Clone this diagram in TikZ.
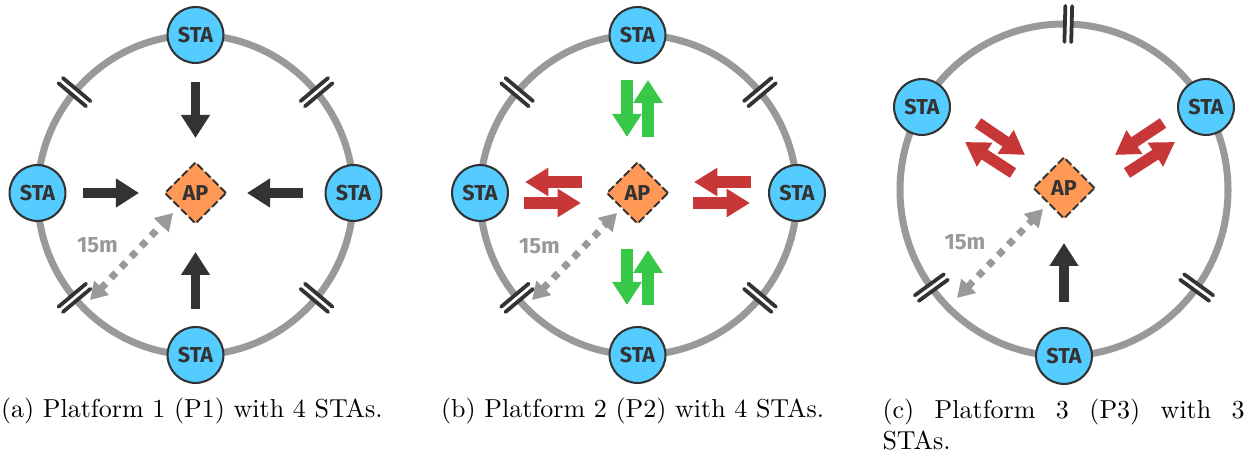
\documentclass[tikz,border=0pt]{standalone}
\usepackage{fontspec}
\newfontfamily\labelfont{Fira Sans}
\usetikzlibrary{arrows.meta,shapes.geometric}
\definecolor{ringgray}{RGB}{153,153,153}
\definecolor{darkline}{RGB}{51,51,51}
\definecolor{stablue}{RGB}{85,204,255}
\definecolor{aporange}{RGB}{255,153,85}
\definecolor{arrowgreen}{RGB}{55,200,72}
\definecolor{arrowred}{RGB}{200,55,55}
\tikzset{
  ring/.style={draw=ringgray, line width=2.7pt},
  sta/.style={circle, draw=darkline, line width=0.8pt, fill=stablue, minimum size=21.5pt, inner sep=0pt,
    font=\labelfont\bfseries\fontsize{8.3}{9}\selectfont, text=darkline},
  ap/.style={diamond, draw=darkline, line width=0.8pt, dash pattern=on 3pt off 1.2pt, fill=aporange,
    minimum width=23.8pt, minimum height=23.8pt, inner sep=0pt,
    font=\labelfont\bfseries\fontsize{8.3}{9}\selectfont, text=darkline},
  blackarrow/.style={draw=darkline, line width=3.8pt, -{Triangle[length=8.85pt,width=10.6pt]}},
  greenarrow/.style={draw=arrowgreen, line width=4.4pt, -{Triangle[length=8.85pt,width=10.8pt]}},
  redarrow/.style={draw=arrowred, line width=4.4pt, -{Triangle[length=9pt,width=10.4pt]}},
  distarrow/.style={draw=ringgray, line width=2.7pt, dash pattern=on 2.7pt off 2.9pt,
    {Triangle[length=6.5pt,width=7.5pt]}-{Triangle[length=6.5pt,width=7.5pt]}},
  distlabel/.style={text=ringgray, font=\labelfont\bfseries\fontsize{8.5}{9}\selectfont, inner sep=0pt},
  caption/.style={font=\fontsize{10}{12}\selectfont, inner sep=0pt},
  brk/.pic={
    \draw[white, line width=1.3pt] (-15,0) -- (15,0);
    \draw[darkline, line width=1.45pt, line cap=round] (-18,3.4) -- (18,3.4);
    \draw[darkline, line width=1.45pt, line cap=round] (-18,-3.4) -- (18,-3.4);
  }
}
\begin{document}
\begin{tikzpicture}[x=0.3846pt,y=-0.3846pt]
\useasboundingbox (0,0) rectangle (1258,457);

% ---------------- Panel (a) ----------------
\draw[ring] (195.5,195) ellipse [x radius=158, y radius=160];
\foreach \t in {140,40,220,320}
  \pic[rotate=\t] at ({195.5+158*cos(\t)},{195-160*sin(\t)}) {brk};
\node[sta] (s1t) at (195.5,35) {STA};
\node[sta] (s1b) at (195.5,355) {STA};
\node[sta] (s1l) at (37.5,193) {STA};
\node[sta] (s1r) at (353.5,193) {STA};
\node[ap] (ap1) at (195.5,193) {AP};
\coordinate (a1t1) at (195.5,82);  \coordinate (a1t2) at (195.5,138);
\coordinate (a1l1) at (83,193);    \coordinate (a1l2) at (139,193);
\coordinate (a1r1) at (303,193);   \coordinate (a1r2) at (247,193);
\coordinate (a1b1) at (195.5,309); \coordinate (a1b2) at (195.5,252);
\draw[blackarrow] (a1t1) -- (a1t2);
\draw[blackarrow] (a1l1) -- (a1l2);
\draw[blackarrow] (a1r1) -- (a1r2);
\draw[blackarrow] (a1b1) -- (a1b2);
\coordinate (d1a) at (90,300); \coordinate (d1b) at (173,213);
\draw[distarrow] (d1a) -- (d1b);
\node[distlabel] (l1) at (97.5,245.5) {15m};
\node[caption, anchor=base west] (c1) at (0.5,418) {(a) Platform 1 (P1) with 4 STAs.};

% ---------------- Panel (b) ----------------
\draw[ring] (638.5,195) ellipse [x radius=158.5, y radius=160];
\foreach \t in {140,40,220,320}
  \pic[rotate=\t] at ({638.5+158.5*cos(\t)},{195-160*sin(\t)}) {brk};
\node[sta] (s2t) at (637.5,35) {STA};
\node[sta] (s2b) at (637.5,355) {STA};
\node[sta] (s2l) at (480,193) {STA};
\node[sta] (s2r) at (797,193) {STA};
\node[ap] (ap2) at (637.5,193) {AP};
\coordinate (g1a) at (627,80);  \coordinate (g1b) at (627,137);
\coordinate (g2a) at (648,137); \coordinate (g2b) at (648,80);
\coordinate (g3a) at (627,249); \coordinate (g3b) at (627,305);
\coordinate (g4a) at (648,305); \coordinate (g4b) at (648,250);
\draw[greenarrow] (g1a) -- (g1b);
\draw[greenarrow] (g2a) -- (g2b);
\draw[greenarrow] (g3a) -- (g3b);
\draw[greenarrow] (g4a) -- (g4b);
\coordinate (r1a) at (582,182); \coordinate (r1b) at (525,182);
\coordinate (r2a) at (524,203); \coordinate (r2b) at (581,203);
\coordinate (r3a) at (751,182); \coordinate (r3b) at (694,182);
\coordinate (r4a) at (693,203); \coordinate (r4b) at (750,203);
\draw[redarrow] (r1a) -- (r1b);
\draw[redarrow] (r2a) -- (r2b);
\draw[redarrow] (r3a) -- (r3b);
\draw[redarrow] (r4a) -- (r4b);
\coordinate (d2a) at (532,300); \coordinate (d2b) at (617,213);
\draw[distarrow] (d2a) -- (d2b);
\node[distlabel] (l2) at (539.5,246) {15m};
\node[caption, anchor=base west] (c2) at (440.5,418) {(b) Platform 2 (P2) with 4 STAs.};

% ---------------- Panel (c) ----------------
\draw[ring] (1064,190) ellipse [x radius=164, y radius=166];
\foreach \t in {88.5,216,324}
  \pic[rotate=\t] at ({1064+164*cos(\t)},{190-166*sin(\t)}) {brk};
\node[sta] (s3l) at (922,107) {STA};
\node[sta] (s3r) at (1206,107) {STA};
\node[sta] (s3b) at (1064,356) {STA};
\node[ap] (ap3) at (1064,188) {AP};
\coordinate (r5a) at (978,123);  \coordinate (r5b) at (1025,155);
\coordinate (r6a) at (1013,173); \coordinate (r6b) at (965,142);
\coordinate (r7a) at (1163,123); \coordinate (r7b) at (1115,155);
\coordinate (r8a) at (1127,173); \coordinate (r8b) at (1175,142);
\draw[redarrow] (r5a) -- (r5b);
\draw[redarrow] (r6a) -- (r6b);
\draw[redarrow] (r7a) -- (r7b);
\draw[redarrow] (r8a) -- (r8b);
\coordinate (a3b1) at (1064,302); \coordinate (a3b2) at (1064,243);
\draw[blackarrow] (a3b1) -- (a3b2);
\coordinate (d3a) at (957,298); \coordinate (d3b) at (1043,209);
\draw[distarrow] (d3a) -- (d3b);
\node[distlabel] (l3) at (965,242.5) {15m};
\node[caption, anchor=north west, text width=139.3pt, align=justify] (c3) at (882,398.5)
  {(c) Platform 3 (P3) with 3 STAs.};
\end{tikzpicture}
\end{document}
